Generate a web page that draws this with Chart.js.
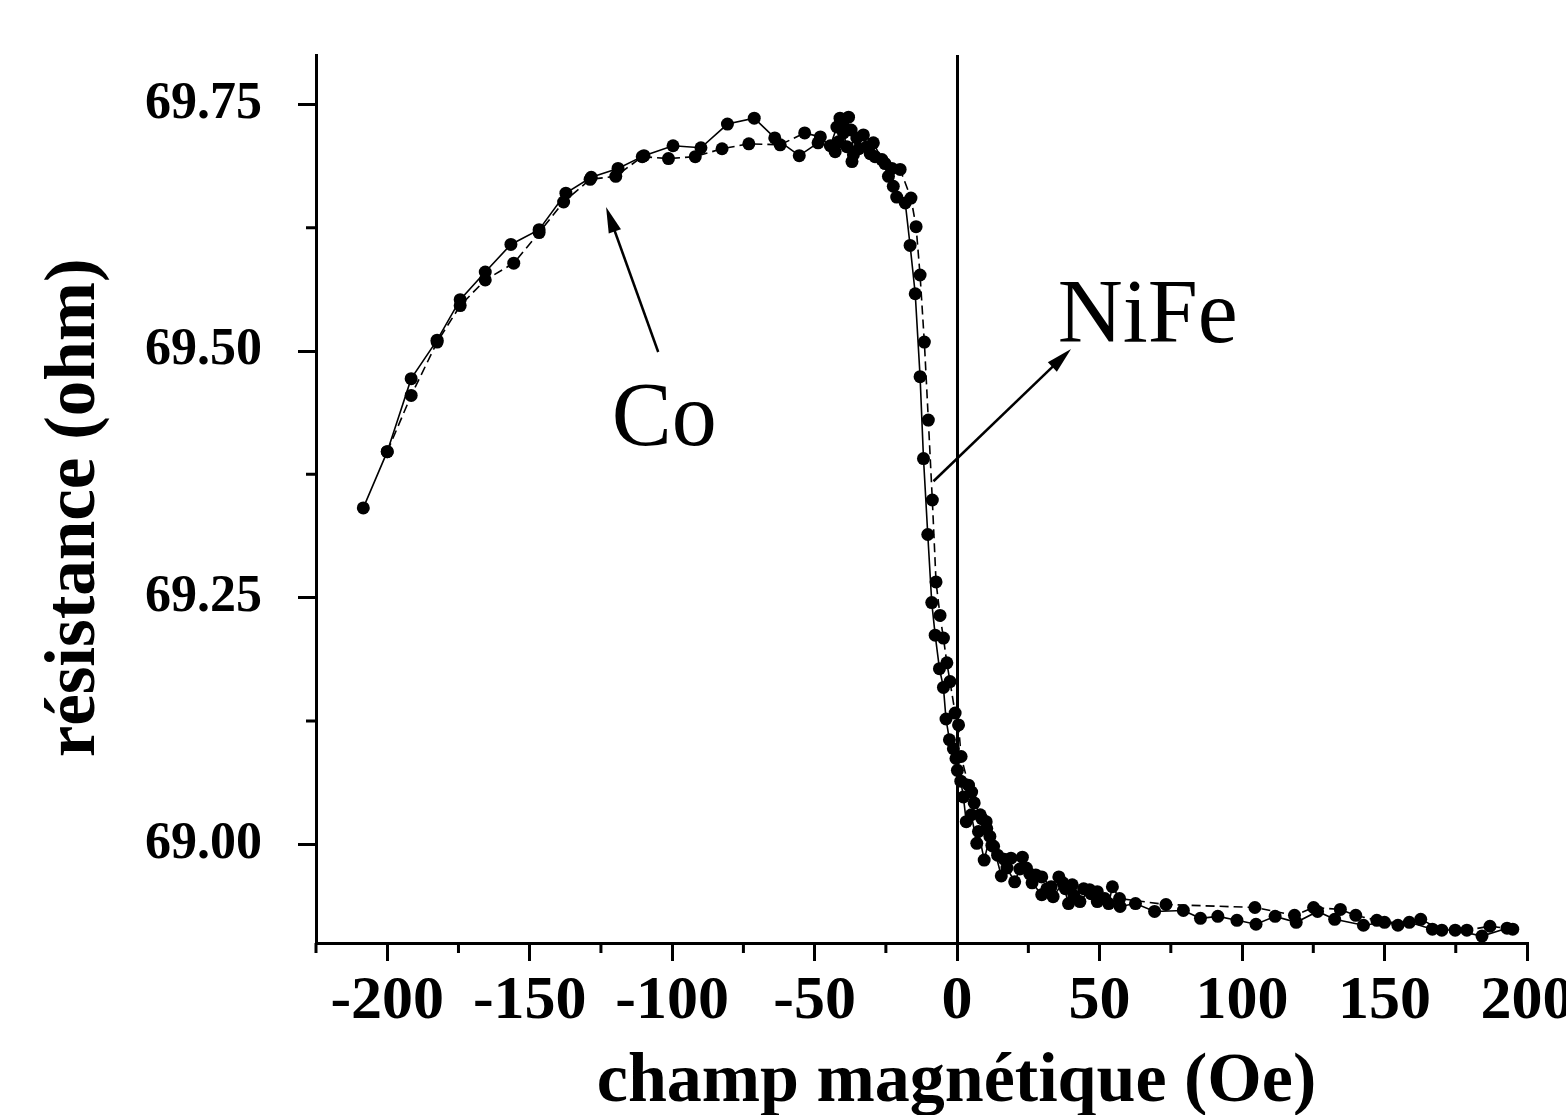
<!DOCTYPE html>
<html>
<head>
<meta charset="utf-8">
<title>résistance vs champ magnétique</title>
<script src="https://cdn.jsdelivr.net/npm/chart.js@4.4.1/dist/chart.umd.min.js"></script>
<style>
	html, body { margin: 0; padding: 0; background: #fff; }
	canvas { display: block; }
</style>
</head>
<body>
<canvas id="chart" width="1566" height="1115"></canvas>
<script>
// branch 1 (solid line)
const fieldUp = [
	-208.4, -200, -191.6, -182.5, -174.4, -165.6, -156.6, -146.7, -137.3, -128.4,
	-119, -109.9, -99.7, -89.9, -80.6, -71.2, -64, -55.4, -48.8, -44.5,
	-42.2, -41.1, -39.9, -38.7, -36.9, -35.2, -32.9, -29.4, -26.4, -24.1,
	-22.4, -21.2, -18.2, -16.5, -14.7, -13, -11.8, -10.3, -8.9, -7.7,
	-6.2, -4.8, -3.9, -2.7, -1.3, -0.4, 0.1, 1.3, 2.2, 3.2,
	5, 6.9, 7.5, 9.5, 11.5, 12.8, 15.5, 17.5, 20.2, 22,
	24.3, 26.3, 29.7, 31.5, 33.7, 37.1, 39.1, 41, 43.1, 46.5,
	49.2, 51.8, 57.2, 62.6, 69.3, 79.4, 85.4, 91.5, 98.2, 104.9,
	111.6, 119, 126.5, 132.5, 142.6, 150, 158.7, 166.8, 174.8, 184.2,
	193
];
const resUp = [
	69.341, 69.398, 69.472, 69.511, 69.552, 69.580, 69.608, 69.623, 69.660, 69.676,
	69.685, 69.698, 69.708, 69.706, 69.730, 69.736, 69.716, 69.698, 69.711, 69.708,
	69.727, 69.736, 69.721, 69.707, 69.692, 69.716, 69.719, 69.711, 69.694, 69.677,
	69.667, 69.656, 69.650, 69.607, 69.558, 69.474, 69.391, 69.314, 69.245, 69.212,
	69.178, 69.159, 69.127, 69.106, 69.097, 69.087, 69.075, 69.064, 69.048, 69.023,
	69.030, 69.001, 69.013, 68.984, 69.008, 68.998, 68.968, 68.976, 68.962, 68.975,
	68.976, 68.961, 68.949, 68.955, 68.947, 68.961, 68.940, 68.948, 68.942, 68.954,
	68.942, 68.945, 68.937, 68.940, 68.932, 68.933, 68.925, 68.927, 68.923, 68.919,
	68.927, 68.921, 68.932, 68.924, 68.918, 68.921, 68.921, 68.914, 68.913, 68.907,
	68.915
];

// branch 2 (dashed line)
const fieldDown = [
	-200, -191.6, -182.5, -174.4, -165.6, -155.6, -146.7, -138.1, -128.8, -119.8,
	-110.5, -101.3, -91.9, -82.5, -73.1, -62.1, -53.5, -48, -42.8, -41.6,
	-40.2, -38.1, -37.2, -36.4, -34.5, -31.7, -30.5, -28.8, -25.3, -22.9,
	-20, -16.2, -14.4, -13, -11.5, -10.1, -8.7, -7.4, -6, -4.8,
	-3.6, -2.5, -0.7, 0.5, 1.4, 4, 5.1, 6, 8.1, 8.7,
	10.2, 10.4, 12.2, 14.2, 16.5, 18.9, 22.9, 25.5, 27.6, 29.7,
	33, 35.7, 38, 40.4, 44.4, 47, 49.2, 53.2, 54.5, 57,
	73.3, 104.5, 118.4, 125.1, 134.5, 139.9, 147.3, 154.7, 162.7, 170.1,
	178.9, 187, 195
];
const resDown = [
	69.398, 69.455, 69.509, 69.546, 69.572, 69.589, 69.620, 69.651, 69.674, 69.677,
	69.697, 69.695, 69.697, 69.705, 69.710, 69.709, 69.721, 69.717, 69.702, 69.712,
	69.730, 69.737, 69.724, 69.699, 69.705, 69.707, 69.700, 69.697, 69.690, 69.685,
	69.684, 69.655, 69.626, 69.577, 69.509, 69.430, 69.349, 69.266, 69.232, 69.209,
	69.184, 69.165, 69.133, 69.121, 69.089, 69.060, 69.053, 69.042, 69.030, 69.026,
	69.023, 69.016, 68.999, 68.989, 68.985, 68.986, 68.987, 68.970, 68.969, 68.967,
	68.957, 68.967, 68.955, 68.959, 68.955, 68.950, 68.952, 68.940, 68.957, 68.945,
	68.939, 68.936, 68.928, 68.936, 68.934, 68.928, 68.923, 68.918, 68.924, 68.913,
	68.913, 68.917, 68.914
];

const xTicks = [-200, -150, -100, -50, 0, 50, 100, 150, 200];
const xMinorTicks = [-225, -175, -125, -75, -25, 25, 75, 125, 175];
const yTicks = [69.00, 69.25, 69.50, 69.75];
const yMinorTicks = [69.125, 69.375, 69.625];

const labelCo = { text: "Co", x: -102.8, y: 69.405, arrowFrom: [-104.9, 69.499], arrowTo: [-123.2, 69.646] };
const labelNiFe = { text: "NiFe", x: 35.3, y: 69.509, arrowFrom: [-8.3, 69.368], arrowTo: [40, 69.502] };

const SERIF = "'Liberation Serif', 'Times New Roman', serif";
const MINOR_LEN = 10;

const toPoints = (xs, ys) => xs.map((v, i) => ({ x: v, y: ys[i] }));

const minorTicks = {
	id: "minorTicks",
	afterDraw(chart) {
		const { ctx, scales: { x, y } } = chart;
		ctx.save();
		ctx.strokeStyle = "#000";
		ctx.lineWidth = 3;
		ctx.beginPath();
		xMinorTicks.forEach(v => {
			const px = x.getPixelForValue(v);
			ctx.moveTo(px, x.top);
			ctx.lineTo(px, x.top + MINOR_LEN);
		});
		yMinorTicks.forEach(v => {
			const py = y.getPixelForValue(v);
			ctx.moveTo(y.right, py);
			ctx.lineTo(y.right - MINOR_LEN, py);
		});
		ctx.stroke();
		ctx.restore();
	}
};

function drawArrow(ctx, x1, y1, x2, y2) {
	const a = Math.atan2(y2 - y1, x2 - x1);
	const head = 26, half = 6.5;
	const cos = Math.cos(a), sin = Math.sin(a);
	ctx.beginPath();
	ctx.moveTo(x1, y1);
	ctx.lineTo(x2 - head * 0.8 * cos, y2 - head * 0.8 * sin);
	ctx.stroke();
	ctx.beginPath();
	ctx.moveTo(x2, y2);
	ctx.lineTo(x2 - head * cos + half * sin, y2 - head * sin - half * cos);
	ctx.lineTo(x2 - head * cos - half * sin, y2 - head * sin + half * cos);
	ctx.closePath();
	ctx.fill();
}

const annotations = {
	id: "annotations",
	afterDatasetsDraw(chart) {
		const { ctx, scales: { x, y } } = chart;
		ctx.save();
		ctx.fillStyle = "#000";
		ctx.strokeStyle = "#000";
		ctx.lineWidth = 2.5;
		ctx.font = `90px ${SERIF}`;
		ctx.textBaseline = "alphabetic";

		[labelCo, labelNiFe].forEach(l => {
			drawArrow(ctx,
				x.getPixelForValue(l.arrowFrom[0]), y.getPixelForValue(l.arrowFrom[1]),
				x.getPixelForValue(l.arrowTo[0]), y.getPixelForValue(l.arrowTo[1]));
		});

		ctx.textAlign = "center";
		ctx.fillText(labelCo.text, x.getPixelForValue(labelCo.x), y.getPixelForValue(labelCo.y));
		ctx.textAlign = "left";
		ctx.fillText(labelNiFe.text, x.getPixelForValue(labelNiFe.x), y.getPixelForValue(labelNiFe.y));
		ctx.restore();
	}
};

const series = (label, xs, ys, dash) => ({
	label,
	data: toPoints(xs, ys),
	borderColor: "#000",
	backgroundColor: "#000",
	borderWidth: 1.6,
	borderDash: dash,
	pointRadius: 6.5,
	pointHoverRadius: 6.5,
	pointBorderWidth: 0,
	pointBackgroundColor: "#000",
	tension: 0
});

new Chart(document.getElementById("chart"), {
	type: "line",
	data: {
		datasets: [
			series("branche 1", fieldUp, resUp, []),
			series("branche 2", fieldDown, resDown, [9, 5])
		]
	},
	options: {
		responsive: false,
		animation: false,
		devicePixelRatio: 1,
		layout: { padding: { top: 55, right: 39, bottom: 0, left: 0 } },
		plugins: {
			legend: { display: false },
			tooltip: { enabled: false }
		},
		scales: {
			x: {
				type: "linear",
				min: -225,
				max: 200,
				afterBuildTicks: scale => { scale.ticks = xTicks.map(v => ({ value: v })); },
				afterFit: scale => {
					scale.height = 172;
					scale.paddingLeft = 0;
					scale.paddingRight = 0;
				},
				border: { display: true, color: "#000", width: 3 },
				grid: {
					drawOnChartArea: true,
					drawTicks: true,
					tickLength: 18,
					tickWidth: 3,
					tickColor: "#000",
					lineWidth: 3,
					color: c => (c.tick && c.tick.value === 0 ? "#000" : "rgba(0,0,0,0)")
				},
				ticks: {
					color: "#000",
					padding: 4,
					maxRotation: 0,
					autoSkip: false,
					font: { family: SERIF, size: 62, weight: "bold" },
					callback: v => String(v)
				},
				title: {
					display: true,
					text: "\u00a0\u00a0\u00a0\u00a0champ magnétique (Oe)",
					color: "#000",
					font: { family: SERIF, size: 70, weight: "bold", lineHeight: 1 },
					padding: { top: 0, bottom: -3 }
				}
			},
			y: {
				type: "linear",
				min: 68.9,
				max: 69.8,
				afterBuildTicks: scale => { scale.ticks = yTicks.map(v => ({ value: v })); },
				afterFit: scale => {
					scale.width = 316;
					scale.paddingTop = 0;
					scale.paddingBottom = 0;
				},
				border: { display: true, color: "#000", width: 3 },
				grid: {
					drawOnChartArea: false,
					drawTicks: true,
					tickLength: 18,
					tickWidth: 3,
					tickColor: "#000"
				},
				ticks: {
					color: "#000",
					padding: 36,
					autoSkip: false,
					font: { family: SERIF, size: 52, weight: "bold" },
					callback: v => Number(v).toFixed(2)
				},
				title: {
					display: true,
					text: "résistance (ohm)\u00a0",
					color: "#000",
					font: { family: SERIF, size: 71, weight: "bold", lineHeight: 1 },
					padding: { top: 40, bottom: 0 }
				}
			}
		}
	},
	plugins: [minorTicks, annotations]
});
</script>
</body>
</html>
